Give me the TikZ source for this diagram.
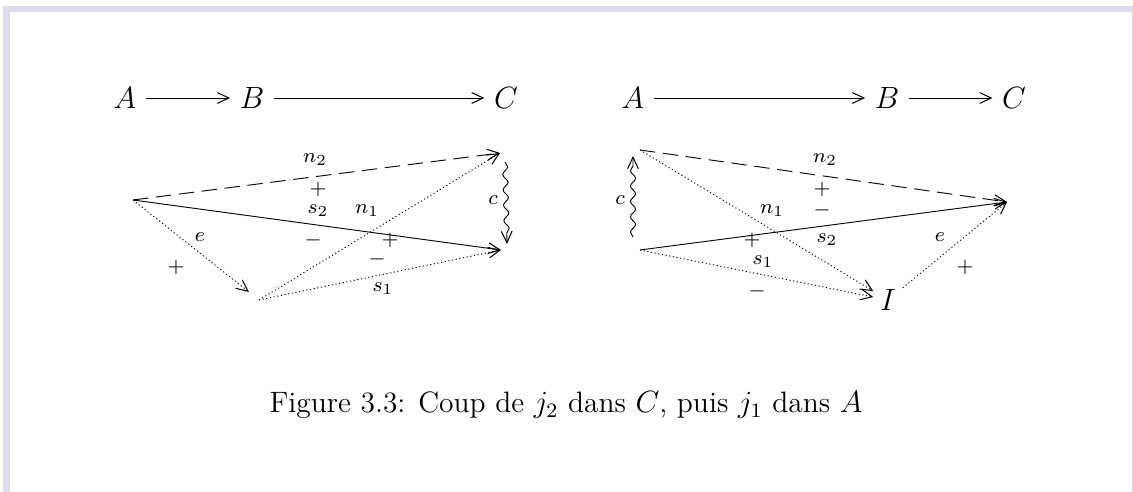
\documentclass[tikz,border=0pt]{standalone}
\usetikzlibrary{decorations.pathmorphing,arrows.meta}
\definecolor{lav}{RGB}{220,220,235}
\definecolor{edgegray}{RGB}{215,215,222}
\begin{document}
\begin{tikzpicture}[x=0.39pt,y=-0.39pt,line width=0.36pt,>={Straight Barb[length=4.5pt,width=4.2pt,line width=0.4pt]},
  big/.style={font=\fontsize{11.5}{13}\selectfont, inner sep=3.6pt},
  lbl/.style={font=\fontsize{8.5}{10}\selectfont, inner sep=0pt},
  dotline/.style={dash pattern=on 0.45pt off 1.0pt},
  longdash/.style={dash pattern=on 6pt off 3pt},
  wave/.style={decorate, decoration={snake, amplitude=1pt, segment length=6pt, post length=3pt}}]
\useasboundingbox (0,0) rectangle (1133,492);
% frame
\fill[lav] (3,6) rectangle (1133,12);
\fill[lav] (3,12) rectangle (10,492);
\fill[edgegray] (1131.5,12) rectangle (1133,492);

% ---------- left diagram ----------
\node[big] (A1) at (125,98) {$A$};
\node[big] (B1) at (252,98) {$B$};
\node[big] (C1) at (506,98) {$C$};
\draw[->] (A1) -- (B1);
\draw[->] (B1) -- (C1);

\coordinate (lp) at (133,200);
\coordinate (lq) at (259,300);
\coordinate (lt) at (500,153);
\coordinate (lr) at (501,250);
\coordinate (lc1) at (505,162);
\coordinate (lc2) at (507,244);

\draw[longdash,->] (lp) -- (lt);
\draw[->] (lp) -- (lr);
\draw[dotline,->,shorten >=5pt] (lp) -- (lq);
\draw[dotline,->] (lq) -- (lt);
\draw[dotline,->] (lq) -- (lr);
\draw[wave,->] (lc1) -- (lc2);

\node[lbl] (ln2) at (315,160) {$n_2$};
\node[lbl] (lpa) at (318,189) {$+$};
\node[lbl] (ls2) at (318,211) {$s_2$};
\node[lbl] (ln1) at (367,211) {$n_1$};
\node[lbl] (lma) at (313,240) {$-$};
\node[lbl] (lpb) at (390,240) {$+$};
\node[lbl] (lmb) at (377,259) {$-$};
\node[lbl] (ls1) at (383,289) {$s_1$};
\node[lbl] (le)  at (200,237) {$e$};
\node[lbl] (lpc) at (176,267) {$+$};
\node[lbl] (lc)  at (493,200) {$c$};

% ---------- right diagram ----------
\node[big] (A2) at (633,98) {$A$};
\node[big] (B2) at (887,98) {$B$};
\node[big] (C2) at (1014,98) {$C$};
\draw[->] (A2) -- (B2);
\draw[->] (B2) -- (C2);

\coordinate (rp) at (640,150);
\coordinate (rq) at (640,250);
\coordinate (rr) at (1007,202);
\coordinate (rc1) at (633,237);
\coordinate (rc2) at (633,156);
\node[big, inner sep=2.5pt] (I) at (888,300) {$I$};

\draw[longdash,->] (rp) -- (rr);
\draw[->] (rq) -- (rr);
\draw[dotline,->] (rp) -- (I);
\draw[dotline,->] (rq) -- (I);
\draw[dotline,->] (I) -- (rr);
\draw[wave,->] (rc1) -- (rc2);

\node[lbl] (rc)  at (620,200) {$c$};
\node[lbl] (rn2) at (825,160) {$n_2$};
\node[lbl] (rpa) at (822,189) {$+$};
\node[lbl] (rma) at (822,210) {$-$};
\node[lbl] (rn1) at (772,211) {$n_1$};
\node[lbl] (rs2) at (827,240) {$s_2$};
\node[lbl] (rpb) at (752,240) {$+$};
\node[lbl] (rs1) at (763,262) {$s_1$};
\node[lbl] (rmb) at (757,291) {$-$};
\node[lbl] (re)  at (940,237) {$e$};
\node[lbl] (rpc) at (965,267) {$+$};

% caption
\node[font=\fontsize{11.5}{13.5}\selectfont, inner sep=0pt] (cap) at (566,405)
  {Figure 3.3: Coup de $j_2$ dans $C$, puis $j_1$ dans $A$};
\end{tikzpicture}
\end{document}
